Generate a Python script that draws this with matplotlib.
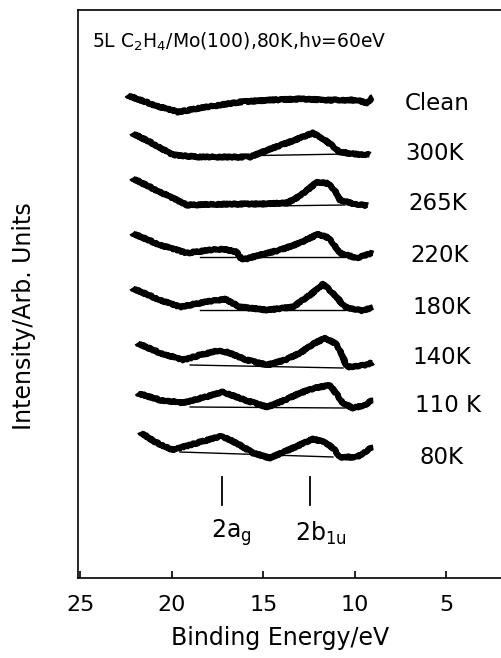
import matplotlib
matplotlib.use("Agg")
import matplotlib.pyplot as plt

plt.rcParams['font.family'] = ['DejaVu Sans']
plt.rcParams['mathtext.fontset'] = 'dejavusans'

# binding energies (eV) and intensities (arb. units)
temps = ["Clean", "300K", "265K", "220K", "180K", "140K", "110 K", "80K"]

e_clean = [22.45, 21.74, 20.65, 19.67, 18.46, 17.37, 16.28, 14.64, 13.0, 11.36, 9.89, 9.34, 9.01]
i_clean = [48.3, 47.8, 47.1, 46.6, 47.0, 47.3, 47.6, 47.8, 47.9, 47.8, 47.8, 47.5, 48.1]

e_300 = [22.18, 21.2, 19.94, 18.46, 15.73, 14.48, 13.27, 12.29, 11.63, 10.81, 9.99, 9.17]
i_300 = [44.5, 43.6, 42.3, 42.1, 42.1, 43.0, 43.8, 44.5, 43.8, 42.6, 42.4, 42.3]

e_265 = [22.18, 20.65, 19.17, 16.83, 15.19, 13.71, 13.0, 12.07, 11.53, 11.09, 10.81, 9.99, 9.28]
i_265 = [40.0, 38.6, 37.3, 37.4, 37.4, 37.5, 38.2, 39.6, 39.5, 38.8, 37.8, 37.4, 37.2]

e_220 = [22.18, 20.65, 19.17, 17.92, 17.21, 16.44, 16.17, 15.19, 14.09, 13.0, 12.02, 11.53, 11.2, 10.81, 9.89, 9.01]
i_220 = [34.5, 33.3, 32.5, 32.8, 32.9, 32.6, 31.8, 32.3, 32.8, 33.5, 34.4, 34.1, 33.5, 32.5, 32.0, 32.5]

e_180 = [22.18, 20.65, 19.56, 18.19, 17.1, 16.28, 14.8, 13.38, 12.45, 11.74, 11.09, 10.54, 9.56, 9.01]
i_180 = [29.0, 27.8, 27.1, 27.6, 27.9, 27.1, 26.8, 27.1, 28.3, 29.4, 28.3, 27.1, 26.7, 27.1]

e_140 = [21.9, 20.65, 19.39, 18.46, 17.54, 16.99, 15.9, 14.8, 13.82, 13.0, 12.18, 11.63, 11.09, 10.81, 10.43, 9.34, 9.01]
i_140 = [23.5, 22.5, 21.8, 22.3, 22.7, 22.6, 21.8, 21.3, 21.8, 22.5, 23.5, 24.0, 23.5, 22.8, 21.1, 21.3, 21.6]

e_110 = [21.9, 20.65, 19.39, 18.19, 17.21, 16.01, 14.8, 13.82, 13.0, 12.18, 11.36, 10.65, 10.1, 9.45, 9.01]
i_110 = [18.5, 17.8, 17.5, 18.1, 18.6, 17.8, 17.1, 17.8, 18.5, 19.0, 19.3, 17.5, 17.0, 17.3, 17.8]

e_80 = [21.74, 20.92, 19.94, 18.46, 17.26, 16.28, 15.57, 14.64, 13.38, 12.29, 11.63, 11.2, 10.81, 9.89, 9.01]
i_80 = [14.6, 13.6, 12.8, 13.6, 14.2, 13.3, 12.5, 12.0, 13.0, 13.9, 13.6, 13.0, 12.1, 12.1, 13.1]

energies = [e_clean, e_300, e_265, e_220, e_180, e_140, e_110, e_80]
intens = [i_clean, i_300, i_265, i_220, i_180, i_140, i_110, i_80]

# background lines under the emission (start E, end E, start I, end I)
bg_e = [None, (19.94, 10.43), (19.0, 10.54), (18.46, 10.54), (18.46, 10.54),
        (19.0, 10.65), (19.0, 10.54), (19.56, 11.2)]
bg_i = [None, (42.1, 42.4), (37.1, 37.3), (32.1, 32.1), (26.8, 26.8),
        (21.3, 21.0), (17.1, 17.0), (12.6, 12.1)]

label_e = [7.3, 7.26, 7.1, 6.99, 6.83, 6.83, 6.72, 6.45]
label_i = [47.5, 42.4, 37.5, 32.3, 27.1, 22.1, 17.3, 12.1]

orbitals = ["2a$_\\mathregular{g}$", "2b$_\\mathregular{1u}$"]
orbital_e = [17.26, 12.45]
orbital_text_e = [17.85, 13.25]

fig = plt.figure(figsize=(5.02, 6.58), dpi=100)
ax = fig.add_axes([78 / 502, 80 / 658, 1 - 78 / 502, 568 / 658])

for e, i in zip(energies, intens):
    ln, = ax.plot(e, i, color="black", lw=4.2, solid_joinstyle="round", solid_capstyle="butt")
    ln.set_sketch_params(scale=0.8, length=2.0, randomness=3)

for be, bi in zip(bg_e, bg_i):
    if be is None:
        continue
    ax.plot(be, bi, color="black", lw=1.0)

for t, x, y in zip(temps, label_e, label_i):
    ax.text(x, y, t, fontsize=16.5, ha="left", va="center")

for name, x, xt in zip(orbitals, orbital_e, orbital_text_e):
    ax.plot([x, x], [7.3, 10.1], color="black", lw=1.3)
    ax.text(xt, 4.5, name, fontsize=17, ha="left", va="center")

ax.text(24.37, 53.6, "5L C$_\\mathregular{2}$H$_\\mathregular{4}$/Mo(100),80K,hν=60eV",
        fontsize=13.5, ha="left", va="center")

ax.set_xlim(25.13, 1.96)
ax.set_ylim(0, 56.8)
ax.set_xticks([25, 20, 15, 10, 5])
ax.set_yticks([])
ax.spines["right"].set_visible(False)
for s in ["left", "bottom", "top"]:
    ax.spines[s].set_linewidth(1.2)
ax.tick_params(axis="x", direction="in", length=5, width=1.2, labelsize=16, pad=12)
ax.set_xlabel("Binding Energy/eV", fontsize=17)
ax.xaxis.set_label_coords((280 - 78) / 424, -48 / 568)
fig.text(24 / 502, 1 - 316 / 658, "Intensity/Arb. Units", rotation=90,
         fontsize=17, ha="center", va="center")

fig.savefig("out.png", dpi=100)
